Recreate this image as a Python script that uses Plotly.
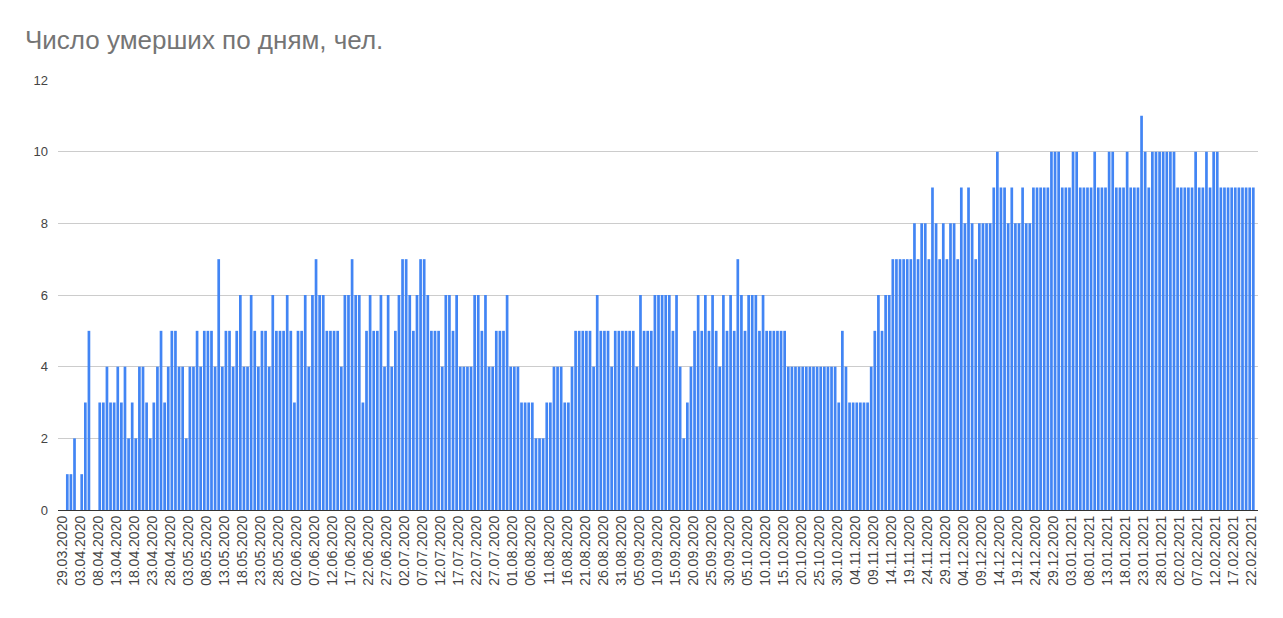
import pandas as pd
import plotly.graph_objects as go

start_date = "2020-03-29"
deaths = [
    1,1,2,0,1,3,5,0,0,3,3,4,3,3,4,3,4,2,3,2,4,4,3,2,3,4,
    5,3,4,5,5,4,4,2,4,4,5,4,5,5,5,4,7,4,5,5,4,5,6,4,4,6,5,
    4,5,5,4,6,5,5,5,6,5,3,5,5,6,4,6,7,6,6,5,5,5,5,4,6,6,
    7,6,6,3,5,6,5,5,6,4,6,4,5,6,7,7,6,5,6,7,7,6,5,5,5,4,6,
    6,5,6,4,4,4,4,6,6,5,6,4,4,5,5,5,6,4,4,4,3,3,3,3,2,2,2,
    3,3,4,4,4,3,3,4,5,5,5,5,5,4,6,5,5,5,4,5,5,5,5,5,5,4,6,
    5,5,5,6,6,6,6,6,5,6,4,2,3,4,5,6,5,6,5,6,5,4,6,5,6,5,7,
    6,5,6,6,6,5,6,5,5,5,5,5,5,4,4,4,4,4,4,4,4,4,4,4,4,4,4,
    3,5,4,3,3,3,3,3,3,4,5,6,5,6,6,7,7,7,7,7,7,8,7,8,8,7,9,
    8,7,8,7,8,8,7,9,8,9,8,7,8,8,8,8,9,10,9,9,8,9,8,8,9,8,8,
    9,9,9,9,9,10,10,10,9,9,9,10,10,9,9,9,9,10,9,9,9,10,10,9,9,9,
    10,9,9,9,11,10,9,10,10,10,10,10,10,10,9,9,9,9,9,10,9,9,10,9,10,10,9,9,9,9,9,9,9,9,9,9,
]
dates = pd.date_range(start_date, periods=len(deaths), freq="D")

tick_dates = pd.date_range("2020-03-29", "2021-02-22", freq="5D")
tick_labels = [d.strftime("%d.%m.%Y") for d in tick_dates]
y_ticks = [0, 2, 4, 6, 8, 10, 12]

title_text = "Число умерших по дням, чел."

# the page body adds an 8px margin; the figure is sized so the plot lands where the reference has it
W, H = 1275, 610

fig = go.Figure(
    go.Bar(x=dates, y=deaths, marker=dict(color="#4285f4", line=dict(width=0)))
)

d0 = pd.Timestamp(start_date)
x_lo = d0 - pd.Timedelta(days=2.58)
x_hi = d0 + pd.Timedelta(days=330.3)

fig.update_layout(
    width=W,
    height=H,
    margin=dict(l=50, r=25, t=72, b=108),
    paper_bgcolor="white",
    plot_bgcolor="white",
    bargap=0.25,
    showlegend=False,
    font=dict(family="Arial, Liberation Sans, sans-serif", color="#444444", size=13),
    title=dict(
        text=title_text,
        x=17 / W,
        xref="container",
        xanchor="left",
        y=1 - 32 / H,
        yref="container",
        yanchor="middle",
        font=dict(size=26, color="#757575"),
    ),
)
fig.update_xaxes(
    type="date",
    range=[x_lo, x_hi],
    tickmode="array",
    tickvals=tick_dates,
    ticktext=tick_labels,
    tickangle=-90,
    tickfont=dict(size=14, color="#444444"),
    ticklabelshift=-5,
    ticklabelstandoff=2,
    showgrid=False,
    showline=False,
    zeroline=False,
    ticks="",
)
fig.update_yaxes(
    range=[0, 12],
    tickvals=y_ticks,
    ticktext=[str(v) for v in y_ticks],
    tickfont=dict(size=13, color="#444444"),
    showgrid=True,
    gridcolor="#cccccc",
    gridwidth=1,
    zeroline=True,
    zerolinecolor="#333333",
    zerolinewidth=1,
    ticks="",
    ticklabelstandoff=9,
)

fig.write_html("out.html")
